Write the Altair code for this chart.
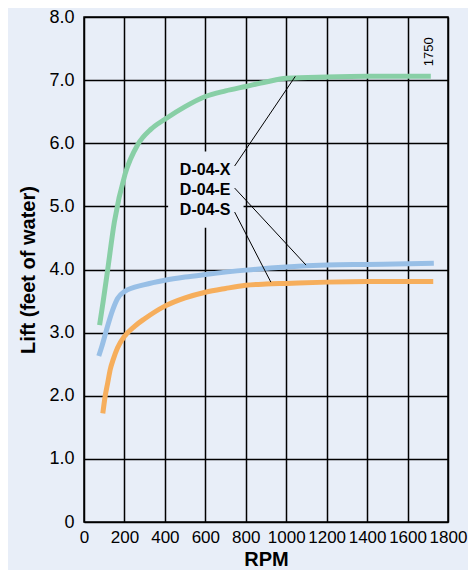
import altair as alt
import pandas as pd

BG = "#e8eef8"

# Curves (RPM, lift in feet of water)
x_rpm = [77, 95, 116, 150, 203, 266, 330, 400, 500, 600, 700, 800, 900, 1000, 1200, 1400, 1600, 1715]
x_lift = [3.12, 3.5, 3.97, 4.75, 5.51, 5.98, 6.22, 6.38, 6.58, 6.74, 6.83, 6.90, 6.97, 7.03, 7.05, 7.06, 7.06, 7.06]

e_rpm = [73, 90, 111, 142, 166, 200, 300, 400, 500, 600, 800, 1000, 1200, 1400, 1600, 1730]
e_lift = [2.63, 2.80, 3.04, 3.36, 3.54, 3.65, 3.76, 3.83, 3.88, 3.92, 3.99, 4.04, 4.07, 4.08, 4.09, 4.10]

s_rpm = [93, 105, 117, 130, 145, 166, 200, 250, 300, 400, 500, 600, 700, 800, 900, 1000, 1200, 1400, 1600, 1727]
s_lift = [1.72, 2.00, 2.20, 2.42, 2.58, 2.76, 2.94, 3.10, 3.22, 3.42, 3.55, 3.64, 3.70, 3.75, 3.77, 3.78, 3.80, 3.81, 3.81, 3.81]

series_names = ["D-04-X", "D-04-E", "D-04-S"]
series_colors = ["#88cfa6", "#98bfe6", "#f6ae5c"]

# Annotation labels
label_rpm = [474, 474, 474]
label_lift = [5.575, 5.26, 4.94]
leader_from_rpm = [745, 745, 745]
leader_from_lift = [5.64, 5.29, 4.91]
leader_to_rpm = [1045, 1098, 924]
leader_to_lift = [7.06, 4.07, 3.80]
label_box = dict(x=416, x2=789, y=5.87, y2=4.66)

note_text = ["1750"]
note_rpm = [1708]
note_lift = [7.45]

x_ticks = list(range(0, 1801, 200))
y_ticks = [0, 1, 2, 3, 4, 5, 6, 7, 8]

rows = []
for name, rr, ll in [("D-04-X", x_rpm, x_lift), ("D-04-E", e_rpm, e_lift), ("D-04-S", s_rpm, s_lift)]:
    for i, (r, l) in enumerate(zip(rr, ll)):
        rows.append({"series": name, "rpm": r, "lift": l, "order": i})
curves = pd.DataFrame(rows)

labels = pd.DataFrame({"name": series_names, "rpm": label_rpm, "lift": label_lift,
                       "r1": leader_from_rpm, "l1": leader_from_lift,
                       "r2": leader_to_rpm, "l2": leader_to_lift})
box = pd.DataFrame([label_box])
note = pd.DataFrame({"t": note_text, "rpm": note_rpm, "lift": note_lift})

xscale = alt.Scale(domain=[0, 1800], nice=False)
yscale = alt.Scale(domain=[0, 8], nice=False)

xaxis = alt.Axis(title="RPM", values=x_ticks, grid=True, ticks=False, domain=False,
                 format="d", labelOverlap=False,
                 labelFontSize=17, labelPadding=7, titleFontSize=20, titleFontWeight="bold",
                 titlePadding=4, labelFlush=False)
yaxis = alt.Axis(title="Lift (feet of water)", values=y_ticks, grid=True, ticks=False, domain=False,
                 labelOverlap=False,
                 labelFontSize=18, labelPadding=10, titleFontSize=20, titleFontWeight="bold",
                 titlePadding=10,
                 labelExpr="datum.value == 0 ? '0' : format(datum.value, '.1f')")

lines = alt.Chart(curves).mark_line(strokeWidth=5, interpolate="monotone").encode(
    x=alt.X("rpm:Q", scale=xscale, axis=xaxis),
    y=alt.Y("lift:Q", scale=yscale, axis=yaxis),
    color=alt.Color("series:N", scale=alt.Scale(domain=series_names, range=series_colors), legend=None),
    order="order:Q",
)

rect = alt.Chart(box).mark_rect(color=BG).encode(
    x="x:Q", x2="x2:Q", y="y:Q", y2="y2:Q"
)

leaders = alt.Chart(labels).mark_rule(color="black", strokeWidth=1).encode(
    x="r1:Q", y="l1:Q", x2="r2:Q", y2="l2:Q"
)

texts = alt.Chart(labels).mark_text(align="left", baseline="middle", fontSize=16,
                                    fontWeight="bold", color="black").encode(
    x="rpm:Q", y="lift:Q", text="name:N"
)

note_mark = alt.Chart(note).mark_text(angle=270, align="center", baseline="middle",
                                      fontSize=13, color="black").encode(
    x="rpm:Q", y="lift:Q", text="t:N"
)

chart = alt.layer(rect, lines, leaders, texts, note_mark).properties(
    width=364, height=505,
    background=BG,
    padding={"left": 76, "top": 9, "right": 20, "bottom": 48},
    autosize=alt.AutoSizeParams(type="none"),
).configure_view(
    fill=BG, stroke="black", strokeWidth=1.5
).configure_axis(
    gridColor="black", gridWidth=1.5, gridOpacity=1,
    labelColor="black", titleColor="black",
    labelFont="Liberation Sans", titleFont="Liberation Sans",
).configure_text(font="Liberation Sans")

chart.save("out.html", embed_options={"renderer": "svg", "actions": False})
